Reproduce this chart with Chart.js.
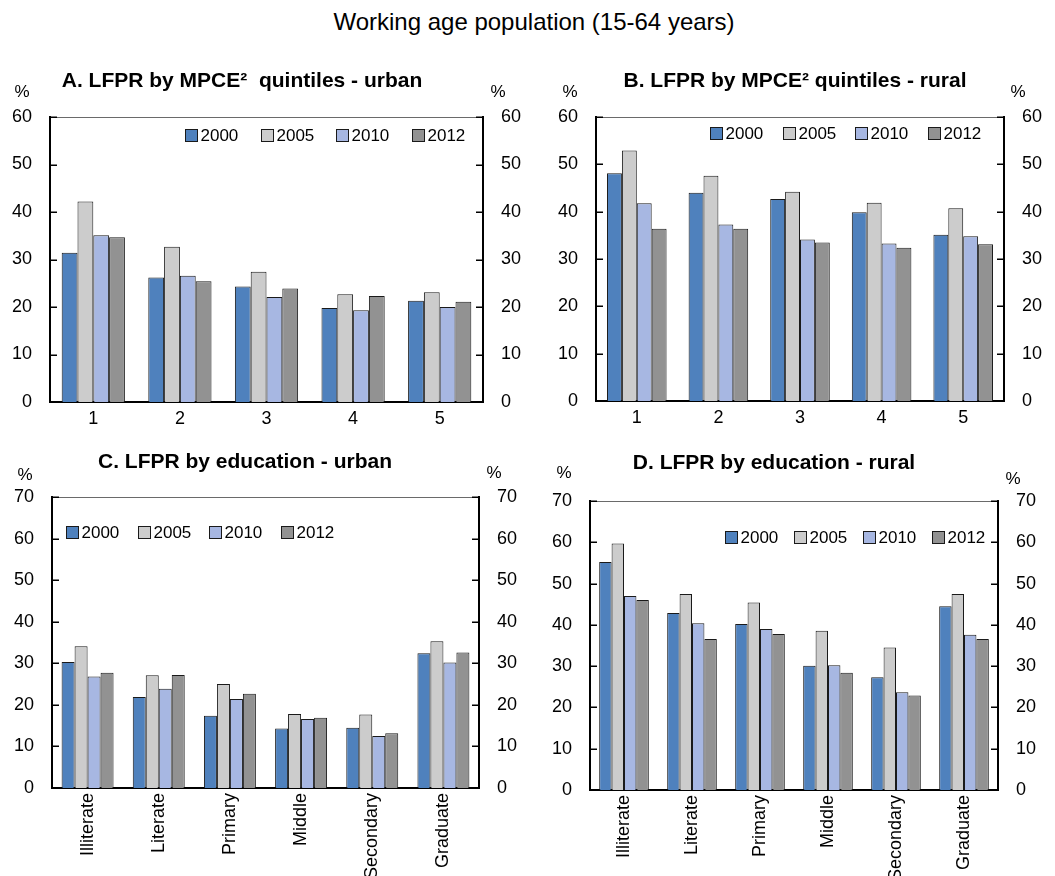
<!DOCTYPE html>
<html>
<head>
<meta charset="utf-8">
<title>Working age population (15-64 years)</title>
<script src="https://cdn.jsdelivr.net/npm/chart.js@4.4.1/dist/chart.umd.min.js"></script>
<style>
  html, body { margin: 0; padding: 0; background: #fff; }
  #page { position: relative; width: 1055px; height: 876px; overflow: hidden; }
  #mainTitle {
    position: absolute; left: 0; top: 8px; width: 1068px; text-align: center;
    font-family: 'Liberation Sans', Arial, sans-serif; font-size: 24px; color: #000;
  }
  canvas { position: absolute; }
</style>
</head>
<body>
<div id="page">
  <div id="mainTitle">Working age population (15-64 years)</div>
  <canvas id="panelA"></canvas>
  <canvas id="panelB"></canvas>
  <canvas id="panelC"></canvas>
  <canvas id="panelD"></canvas>
</div>
<script>
// ---- data ----
const years = ['2000', '2005', '2010', '2012'];
const quintileLabels = ['1', '2', '3', '4', '5'];
const educationLabels = ['Illiterate', 'Literate', 'Primary', 'Middle', 'Secondary', 'Graduate'];

// LFPR (%) by MPCE quintile, urban
const urbanMpce2000 = [31.4, 26.2, 24.3, 19.8, 21.3];
const urbanMpce2005 = [42.2, 32.7, 27.4, 22.7, 23.1];
const urbanMpce2010 = [35.1, 26.6, 22.1, 19.3, 20.0];
const urbanMpce2012 = [34.7, 25.4, 23.9, 22.3, 21.1];

// LFPR (%) by MPCE quintile, rural
const ruralMpce2000 = [48.1, 44.0, 42.7, 39.9, 35.1];
const ruralMpce2005 = [52.9, 47.6, 44.2, 41.9, 40.7];
const ruralMpce2010 = [41.8, 37.3, 34.1, 33.3, 34.8];
const ruralMpce2012 = [36.4, 36.4, 33.5, 32.4, 33.1];

// LFPR (%) by education, urban
const urbanEdu2000 = [30.3, 21.9, 17.4, 14.3, 14.5, 32.4];
const urbanEdu2005 = [34.1, 27.1, 25.0, 17.8, 17.7, 35.3];
const urbanEdu2010 = [26.8, 23.9, 21.4, 16.6, 12.5, 30.2];
const urbanEdu2012 = [27.7, 27.2, 22.7, 16.9, 13.2, 32.6];

// LFPR (%) by education, rural
const ruralEdu2000 = [55.2, 42.9, 40.2, 30.1, 27.3, 44.5];
const ruralEdu2005 = [59.7, 47.5, 45.4, 38.6, 34.5, 47.5];
const ruralEdu2010 = [47.0, 40.4, 39.0, 30.2, 23.7, 37.6];
const ruralEdu2012 = [46.0, 36.6, 37.8, 28.4, 22.9, 36.6];

// value axes
const mpceAxisMax = 60;
const eduAxisMax = 70;
const axisStep = 10;

// ---- styling ----
const FONT = "'Liberation Sans', Arial, sans-serif";
const yearColors = ['#4F81BD', '#CCCCCC', '#A7B7E2', '#929292'];
const barEdge = '#1a1a1a';

Chart.defaults.font.family = FONT;
Chart.defaults.font.size = 18;
Chart.defaults.color = '#000';

// Draws the panel title, the "%" unit labels, the thin top frame line,
// the inward tick marks on both value axes and the in-plot legend.
const panelDecor = {
  id: 'panelDecor',
  afterDraw(chart, args, o) {
    const ctx = chart.ctx;
    const a = chart.chartArea;
    ctx.save();

    // top frame line
    ctx.strokeStyle = '#6a6a6a';
    ctx.lineWidth = 1;
    ctx.beginPath();
    ctx.moveTo(a.left, a.top + 0.5);
    ctx.lineTo(a.right, a.top + 0.5);
    ctx.stroke();

    // inward tick marks
    const ys = chart.scales.y;
    ctx.strokeStyle = '#000';
    ctx.lineWidth = 1.5;
    ys.ticks.forEach(t => {
      const py = Math.round(ys.getPixelForValue(t.value)) + 0.25;
      ctx.beginPath();
      ctx.moveTo(a.left, py); ctx.lineTo(a.left + 7, py);
      ctx.moveTo(a.right - 7, py); ctx.lineTo(a.right, py);
      ctx.stroke();
    });

    // panel title
    ctx.fillStyle = '#000';
    ctx.font = 'bold 21px ' + FONT;
    ctx.textAlign = 'center';
    ctx.textBaseline = 'alphabetic';
    ctx.fillText(o.title, o.titleX, o.titleY);

    // unit labels
    ctx.font = '17px ' + FONT;
    ctx.textBaseline = 'middle';
    ctx.fillText('%', o.pctLeft[0], o.pctLeft[1]);
    ctx.fillText('%', o.pctRight[0], o.pctRight[1]);

    // legend
    ctx.font = '17px ' + FONT;
    ctx.textAlign = 'left';
    chart.data.datasets.forEach((ds, i) => {
      const bx = Math.round(o.legendX + i * o.legendGap) + 0.5;
      const by = Math.round(o.legendY - 6) + 0.5;
      ctx.fillStyle = ds.backgroundColor;
      ctx.fillRect(bx, by, 12, 12);
      ctx.strokeStyle = barEdge;
      ctx.lineWidth = 1;
      ctx.strokeRect(bx, by, 12, 12);
      ctx.fillStyle = '#000';
      ctx.fillText(ds.label, bx + 15, o.legendY + 1);
    });
    ctx.restore();
  }
};

function makePanel(id, box, area, labels, series, axisMax, decor, rotated) {
  const cv = document.getElementById(id);
  cv.style.left = box.left + 'px';
  cv.style.top = box.top + 'px';
  cv.style.width = box.width + 'px';
  cv.style.height = box.height + 'px';
  cv.width = box.width;
  cv.height = box.height;

  const leftW = area.l - box.left;
  const rightW = box.left + box.width - area.r;
  const bottomH = box.top + box.height - area.b;
  const topPad = area.t - box.top;

  const valueAxis = (pos, w) => ({
    position: pos,
    min: 0,
    max: axisMax,
    ticks: { stepSize: axisStep, padding: 18, font: { size: 18 }, color: '#000' },
    grid: { display: false, drawTicks: false },
    border: { display: true, color: '#000', width: 2 },
    afterFit(s) { s.width = w; }
  });

  return new Chart(cv, {
    type: 'bar',
    data: {
      labels: labels,
      datasets: series.map((vals, i) => ({
        label: years[i],
        data: vals,
        backgroundColor: yearColors[i],
        borderColor: barEdge,
        borderWidth: 1,
        categoryPercentage: 0.73,
        barPercentage: 1.0,
        yAxisID: 'y'
      }))
    },
    options: {
      responsive: false,
      animation: false,
      layout: { padding: { top: topPad, left: 0, right: 0, bottom: 0 } },
      plugins: {
        legend: { display: false },
        title: { display: false },
        tooltip: { enabled: false },
        panelDecor: decor
      },
      scales: {
        x: {
          position: 'bottom',
          grid: { display: false, drawTicks: false },
          border: { display: true, color: '#000', width: 2 },
          ticks: {
            padding: rotated ? 5 : 6,
            autoSkip: false,
            minRotation: rotated ? 90 : 0,
            maxRotation: rotated ? 90 : 0,
            font: { size: 18 },
            color: '#000'
          },
          afterFit(s) { s.height = bottomH; }
        },
        y: valueAxis('left', leftW),
        y2: valueAxis('right', rightW)
      }
    },
    plugins: [panelDecor]
  });
}

// A. urban, by MPCE quintile
makePanel('panelA',
  { left: 0, top: 40, width: 527, height: 400 },
  { l: 50, t: 117, r: 483, b: 402 },
  quintileLabels,
  [urbanMpce2000, urbanMpce2005, urbanMpce2010, urbanMpce2012],
  mpceAxisMax,
  { title: 'A. LFPR by MPCE\u00B2  quintiles - urban', titleX: 242, titleY: 47,
    pctLeft: [22, 52], pctRight: [498, 52],
    legendX: 185, legendY: 95, legendGap: 75.7 },
  false);

// B. rural, by MPCE quintile
makePanel('panelB',
  { left: 527, top: 40, width: 528, height: 400 },
  { l: 596, t: 117, r: 1004, b: 401 },
  quintileLabels,
  [ruralMpce2000, ruralMpce2005, ruralMpce2010, ruralMpce2012],
  mpceAxisMax,
  { title: 'B. LFPR by MPCE\u00B2 quintiles - rural', titleX: 268, titleY: 47,
    pctLeft: [43, 52], pctRight: [491, 52],
    legendX: 183, legendY: 93, legendGap: 72.7 },
  false);

// C. urban, by education
makePanel('panelC',
  { left: 0, top: 440, width: 527, height: 436 },
  { l: 52, t: 497, r: 479, b: 788 },
  educationLabels,
  [urbanEdu2000, urbanEdu2005, urbanEdu2010, urbanEdu2012],
  eduAxisMax,
  { title: 'C. LFPR by education - urban', titleX: 245, titleY: 28,
    pctLeft: [25, 35], pctRight: [494, 33],
    legendX: 66, legendY: 92, legendGap: 71.7 },
  true);

// D. rural, by education
makePanel('panelD',
  { left: 527, top: 440, width: 528, height: 436 },
  { l: 590, t: 501, r: 998, b: 790 },
  educationLabels,
  [ruralEdu2000, ruralEdu2005, ruralEdu2010, ruralEdu2012],
  eduAxisMax,
  { title: 'D. LFPR by education - rural', titleX: 247, titleY: 29,
    pctLeft: [37, 33], pctRight: [486, 39],
    legendX: 198, legendY: 97, legendGap: 69 },
  true);
</script>
</body>
</html>
